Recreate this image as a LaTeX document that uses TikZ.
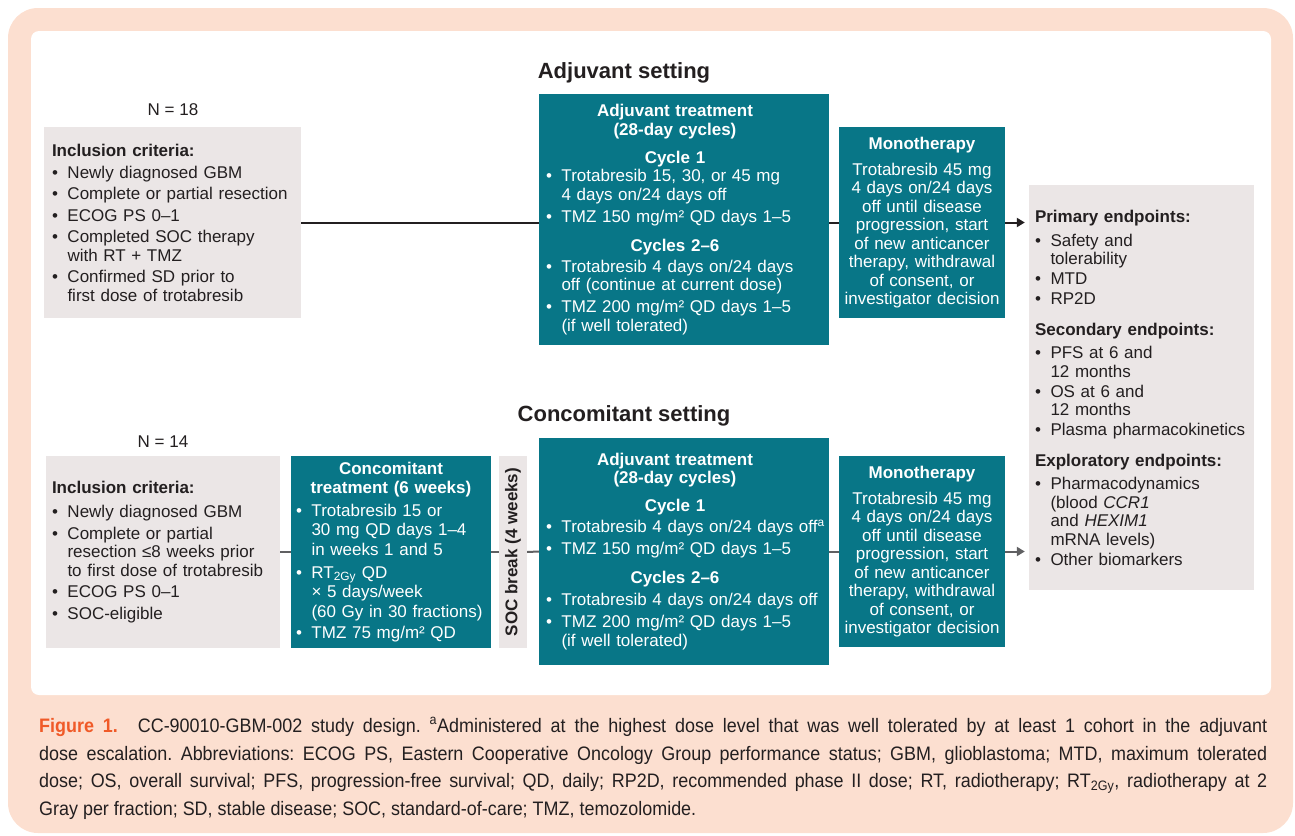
\documentclass[tikz,border=0pt]{standalone}
\usepackage{fontspec}
\setmainfont{Liberation Sans}
\newfontfamily\capfont[FakeStretch=0.92]{Liberation Sans}
\usetikzlibrary{arrows.meta}

\definecolor{peach}{RGB}{252,223,208}
\definecolor{boxgrey}{RGB}{235,230,230}
\definecolor{teal}{RGB}{8,118,135}
\definecolor{ink}{RGB}{35,31,32}
\definecolor{linegrey}{RGB}{96,96,98}
\definecolor{figred}{RGB}{240,90,40}

\newcommand{\bodyfont}{\fontsize{17}{18.5}\selectfont}
\newcommand{\itm}{\makebox[15.5pt][l]{\textbullet}}
\newcommand{\ind}{\hspace*{15.5pt}}
\newcommand{\hd}[2]{\makebox[#1]{\bfseries #2}}
\hyphenpenalty=10000
\frenchspacing

\begin{document}
\begin{tikzpicture}[x=1pt, y=-1pt,
                    every node/.style={text=ink},
                    gbox/.style n args={2}{fill=boxgrey,
                    minimum width=#1, minimum height=#2,
                    inner ysep=0pt, align=left, font=\bodyfont},
                    tbox/.style n args={2}{fill=teal, text=white,
                    minimum width=#1, minimum height=#2,
                    inner ysep=0pt, align=left, font=\bodyfont},
                    settitle/.style={font=\fontsize{22}{26}\selectfont\bfseries},
                    cnt/.style={font=\fontsize{17}{20}\selectfont},
                    capline/.style={font=\capfont\fontsize{19.5}{28}\selectfont,
                    inner sep=0pt, anchor=base west},
                    link/.style={line width=2pt, ink},
                    glink/.style={line width=2pt, linegrey}]
    \useasboundingbox (0,0) rectangle (1295,835);
    \fill[peach, rounded corners=30pt] (8,8) rectangle (1293,833);
    \fill[white, rounded corners=8pt] (31,31) rectangle (1271,695);

    \node[settitle] (t1) at (624,73) {Adjuvant setting};
    \node[settitle] (t2) at (624,416) {Concomitant setting};
    \node[cnt] (n1) at (173,110) {N = 18};
    \node[cnt] (n2) at (163,442) {N = 14};

    \node[gbox={257pt}{191pt}, inner xsep=8pt, text width=241pt] (incl1) at (172.5,222.5) {%
        \textbf{Inclusion criteria:}\\[3.5pt]
        \itm Newly diagnosed GBM\\[3pt]
        \itm Complete or partial resection\\[3pt]
        \itm ECOG PS 0–1\\[3pt]
        \itm Completed SOC therapy\\
        \ind with RT + TMZ\\[3pt]
        \itm Confirmed SD prior to\\
        \ind first dose of trotabresib};

    \node[tbox={290pt}{251pt}, inner xsep=7pt, text width=276pt] (adj1) at (684,219.5) {%
        \hd{258pt}{Adjuvant treatment}\\
        \hd{258pt}{(28-day cycles)}\\[9.5pt]
        \hd{258pt}{Cycle 1}\\
        \itm Trotabresib 15, 30, or 45 mg\\
        \ind 4 days on/24 days off\\[3.5pt]
        \itm TMZ 150 mg/m² QD days 1–5\\[10.5pt]
        \hd{258pt}{Cycles 2–6}\\[2.5pt]
        \itm Trotabresib 4 days on/24 days\\
        \ind off (continue at current dose)\\[3.5pt]
        \itm TMZ 200 mg/m² QD days 1–5\\
        \ind (if well tolerated)};

    \node[tbox={166pt}{191pt}, inner xsep=3pt, text width=160pt, align=center] (mono1) at (922,222.5) {%
        \textbf{Monotherapy}\\[7.5pt]
        Trotabresib 45 mg\\
        4 days on/24 days\\
        off until disease\\
        progression, start\\
        of new anticancer\\
        therapy, withdrawal\\
        of consent, or\\
        investigator decision\\[-2pt]};

    \node[gbox={225pt}{405pt}, inner xsep=6pt, text width=213pt] (ep) at (1141.5,387.5) {%
        \textbf{Primary endpoints:}\\[5.5pt]
        \itm Safety and\\
        \ind tolerability\\[1.5pt]
        \itm MTD\\[1.5pt]
        \itm RP2D\\[12.5pt]
        \textbf{Secondary endpoints:}\\[4.5pt]
        \itm PFS at 6 and\\
        \ind 12 months\\[1.5pt]
        \itm OS at 6 and\\
        \ind 12 months\\[1.5pt]
        \itm Plasma pharmacokinetics\\[12.5pt]
        \textbf{Exploratory endpoints:}\\[4.5pt]
        \itm Pharmacodynamics\\
        \ind (blood \textit{CCR1}\\
        \ind and \textit{HEXIM1}\\
        \ind mRNA levels)\\[1.5pt]
        \itm Other biomarkers};

    \node[gbox={234pt}{192pt}, inner xsep=6pt, text width=222pt] (incl2) at (163,552) {%
        \textbf{Inclusion criteria:}\\[5.5pt]
        \itm Newly diagnosed GBM\\[3.5pt]
        \itm Complete or partial\\
        \ind resection ≤8 weeks prior\\
        \ind to first dose of trotabresib\\[2.5pt]
        \itm ECOG PS 0–1\\[3.5pt]
        \itm SOC-eligible\\[-5pt]};

    \node[tbox={200pt}{192pt}, inner xsep=5pt, text width=190pt, font=\fontsize{17}{19.5}\selectfont] (conc) at (391,552) {%
        \hd{\linewidth}{Concomitant}\\[-1pt]
        \hd{\linewidth}{treatment (6 weeks)}\\[3.5pt]
        \itm Trotabresib 15 or\\
        \ind 30 mg QD days 1–4\\
        \ind in weeks 1 and 5\\[3.5pt]
        \itm RT\textsubscript{2Gy} QD\\
        \ind × 5 days/week\\
        \ind (60 Gy in 30 fractions)\\[1.5pt]
        \itm TMZ 75 mg/m² QD\\[-4pt]};

    \node[gbox={28pt}{192pt}, inner sep=0pt] (soc) at (513,552) {\rotatebox{90}{\bfseries SOC break (4 weeks)}};

    \node[tbox={290pt}{227pt}, inner xsep=7pt, text width=276pt] (adj2) at (684,551.5) {%
        \hd{258pt}{Adjuvant treatment}\\
        \hd{258pt}{(28-day cycles)}\\[9.5pt]
        \hd{258pt}{Cycle 1}\\[2.5pt]
        \itm Trotabresib 4 days on/24 days off\rlap{\textsuperscript{a}}\\[3.5pt]
        \itm TMZ 150 mg/m² QD days 1–5\\[10.5pt]
        \hd{258pt}{Cycles 2–6}\\[3.5pt]
        \itm Trotabresib 4 days on/24 days off\\[3.5pt]
        \itm TMZ 200 mg/m² QD days 1–5\\
        \ind (if well tolerated)};

    \node[tbox={166pt}{191pt}, inner xsep=3pt, text width=160pt, align=center] (mono2) at (922,551.5) {%
        \textbf{Monotherapy}\\[7.5pt]
        Trotabresib 45 mg\\
        4 days on/24 days\\
        off until disease\\
        progression, start\\
        of new anticancer\\
        therapy, withdrawal\\
        of consent, or\\
        investigator decision\\[-2pt]};

    \draw[link] (incl1.east) -- (incl1.east -| adj1.west);
    \draw[link] (adj1.east |- mono1.west) -- (mono1.west);
    \draw[link, -{Triangle[length=8pt,width=9pt]}, shorten >=4pt] (mono1.east) -- (mono1.east -| ep.west);

    \draw[glink] (incl2.east) -- (conc.west);
    \draw[glink] (conc.east) -- (soc.west);
    \draw[glink] (soc.east) -- (adj2.west);
    \draw[glink] (adj2.east) -- (mono2.west);
    \draw[glink, -{Triangle[length=8pt,width=9pt]}, shorten >=4pt] (mono2.east) -- (mono2.east -| ep.west);

    \node[capline] (cap1) at (39,732) {\makebox[1228pt][s]{\textcolor{figred}{\bfseries Figure~1.}\hspace{20pt}CC-90010-GBM-002 study design. \textsuperscript{a}Administered at the highest dose level that was well tolerated by at least 1 cohort in the adjuvant}};
    \node[capline] (cap2) at (39,760) {\makebox[1228pt][s]{dose escalation. Abbreviations: ECOG PS, Eastern Cooperative Oncology Group performance status; GBM, glioblastoma; MTD, maximum tolerated}};
    \node[capline] (cap3) at (39,787.5) {\makebox[1228pt][s]{dose; OS, overall survival; PFS, progression-free survival; QD, daily; RP2D, recommended phase II dose; RT, radiotherapy; RT\textsubscript{2Gy}, radiotherapy at 2}};
    \node[capline] (cap4) at (39,815) {Gray per fraction; SD, stable disease; SOC, standard-of-care; TMZ, temozolomide.};
\end{tikzpicture}
\end{document}
